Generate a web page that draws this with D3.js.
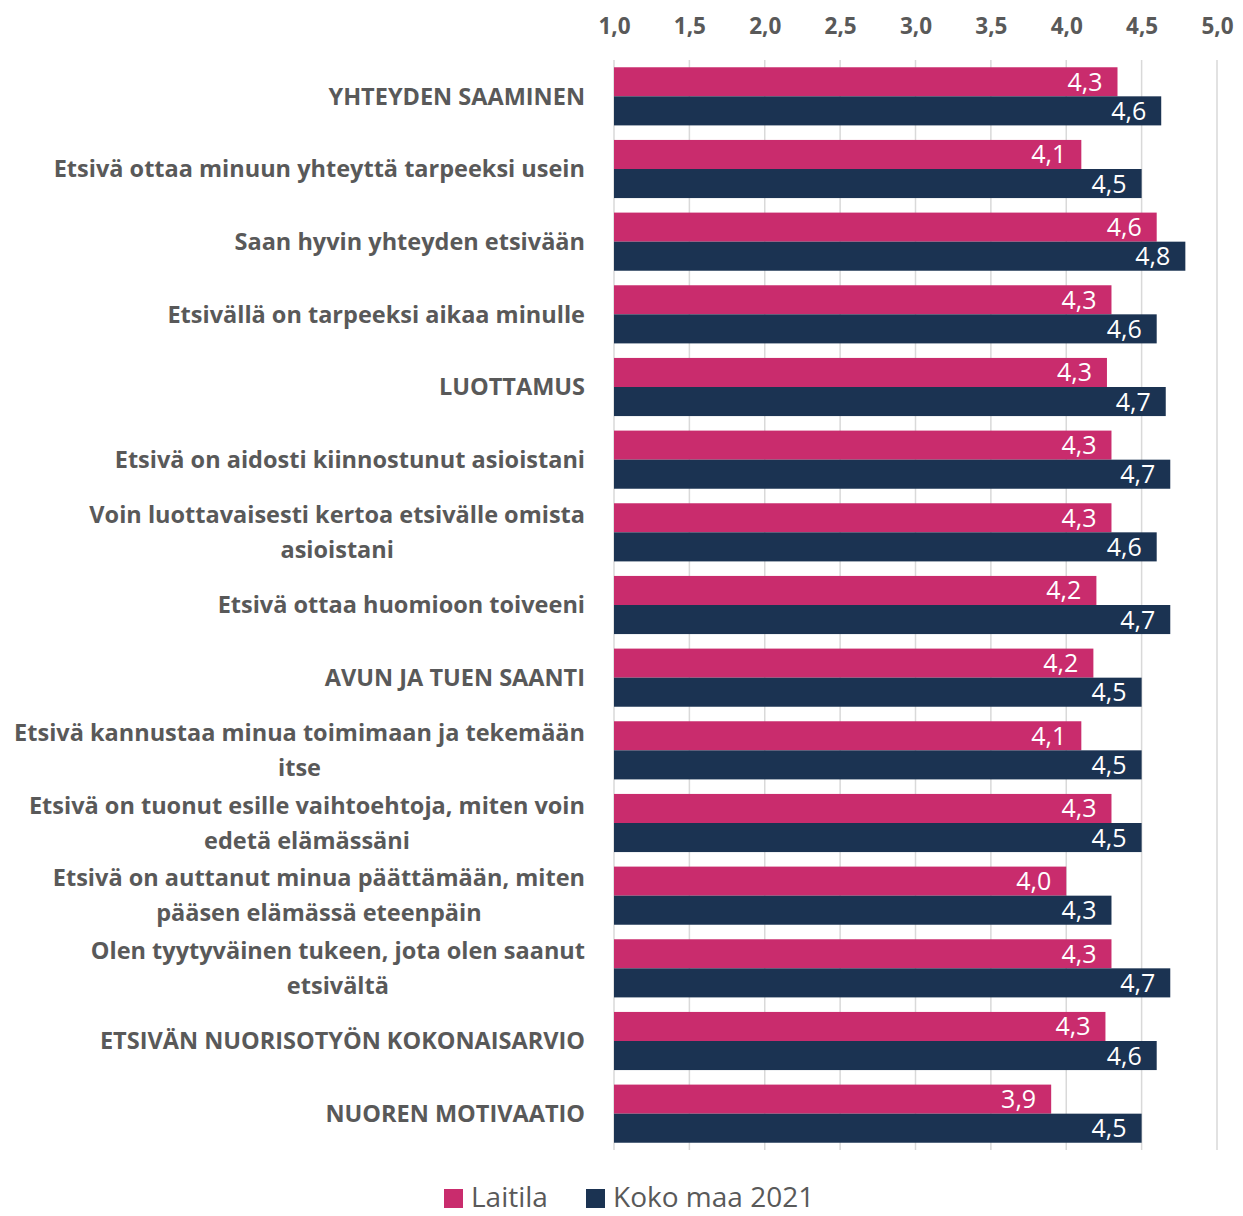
<!DOCTYPE html>
<html>
<head>
<meta charset="utf-8">
<script src="https://cdn.jsdelivr.net/npm/d3@7"></script>
<style>
  body { margin: 0; background: #fff; }
  svg { display: block; }
</style>
</head>
<body>
<svg id="chart"></svg>
<script>
// categories, lines split where the original wraps
const categories = [
  "YHTEYDEN SAAMINEN",
  "Etsivä ottaa minuun yhteyttä tarpeeksi usein",
  "Saan hyvin yhteyden etsivään",
  "Etsivällä on tarpeeksi aikaa minulle",
  "LUOTTAMUS",
  "Etsivä on aidosti kiinnostunut asioistani",
  "Voin luottavaisesti kertoa etsivälle omista|asioistani",
  "Etsivä ottaa huomioon toiveeni",
  "AVUN JA TUEN SAANTI",
  "Etsivä kannustaa minua toimimaan ja tekemään|itse",
  "Etsivä on tuonut esille vaihtoehtoja, miten voin|edetä elämässäni",
  "Etsivä on auttanut minua päättämään, miten|pääsen elämässä eteenpäin",
  "Olen tyytyväinen tukeen, jota olen saanut|etsivältä",
  "ETSIVÄN NUORISOTYÖN KOKONAISARVIO",
  "NUOREN MOTIVAATIO"
]

const laitila = [4.34, 4.10, 4.60, 4.30, 4.27, 4.30, 4.30, 4.20, 4.18, 4.10, 4.30, 4.00, 4.30, 4.26, 3.90]
const kokoMaa = [4.63, 4.50, 4.79, 4.60, 4.66, 4.69, 4.60, 4.69, 4.50, 4.50, 4.50, 4.30, 4.69, 4.60, 4.50]

const seriesNames = ["Laitila", "Koko maa 2021"]
const seriesColors = ["#c92c6d", "#1b3352"]
const xTicks = [1.0, 1.5, 2.0, 2.5, 3.0, 3.5, 4.0, 4.5, 5.0]

const W = 1243, H = 1216
const fmt = d => d3.format(".1f")(d).replace(".", ",")
const font = "'Open Sans', sans-serif"
const grey = "#595959"

const svg = d3.select("#chart").attr("width", W).attr("height", H)

//scales
const x = d3.scaleLinear().domain([1, 5]).range([614, 1217])
const y = d3.scaleBand().domain(d3.range(categories.length)).range([60, 1150])
  .paddingInner(0.2).paddingOuter(0.1)
const ySub = d3.scaleBand().domain([0, 1]).range([0, y.bandwidth()])

//gridlines
svg.append("g").selectAll("line").data(xTicks).join("line")
  .attr("x1", d => x(d)).attr("x2", d => x(d))
  .attr("y1", 60).attr("y2", 1150)
  .attr("stroke", "#d9d9d9").attr("stroke-width", 1.5)

//top axis labels
const xAxis = d3.axisTop(x).tickValues(xTicks).tickFormat(fmt).tickSize(0).tickPadding(0)
const xg = svg.append("g").attr("transform", "translate(0,34)").call(xAxis)
xg.select(".domain").remove()
xg.selectAll("text")
  .attr("font-family", font).attr("font-size", 22.5).attr("font-weight", 700)
  .attr("fill", grey)

//bars
const data = categories.map((c, i) => ({ i, vals: [laitila[i], kokoMaa[i]] }))
const groups = svg.append("g").selectAll("g").data(data).join("g")
  .attr("transform", d => `translate(0,${y(d.i)})`)

groups.selectAll("rect").data(d => d.vals).join("rect")
  .attr("x", x(1))
  .attr("y", (v, k) => ySub(k))
  .attr("width", v => x(v) - x(1))
  .attr("height", ySub.bandwidth())
  .attr("fill", (v, k) => seriesColors[k])

groups.selectAll("text").data(d => d.vals).join("text")
  .attr("x", v => x(v) - 15)
  .attr("y", (v, k) => ySub(k) + ySub.bandwidth() / 2)
  .attr("dy", "0.36em")
  .attr("text-anchor", "end")
  .attr("font-family", font).attr("font-size", 25)
  .attr("fill", "#fff")
  .text(v => fmt(v))

//category labels: block right aligned, lines centred inside it
const labelRight = 585
const lineH = 35
const labels = svg.append("g")
categories.forEach((c, i) => {
  const lines = c.split("|")
  const t = labels.append("text")
    .attr("font-family", font).attr("font-size", 23.5).attr("font-weight", 700)
    .attr("fill", grey).attr("text-anchor", "middle")
  const cy = y(i) + y.bandwidth() / 2
  lines.forEach((ln, k) => {
    t.append("tspan").attr("y", cy + (k - (lines.length - 1) / 2) * lineH).attr("dy", "0.35em").text(ln)
  })
  let maxW = 0
  t.selectAll("tspan").each(function () { maxW = Math.max(maxW, this.getComputedTextLength()) })
  t.selectAll("tspan").attr("x", labelRight - maxW / 2)
})

//legend
const legend = svg.append("g").attr("transform", "translate(444,1197)")
const legendX = [0, 142]
seriesNames.forEach((s, k) => {
  const g = legend.append("g").attr("transform", `translate(${legendX[k]},0)`)
  g.append("rect").attr("x", 0).attr("y", -8).attr("width", 19).attr("height", 19).attr("fill", seriesColors[k])
  g.append("text").attr("x", 27).attr("dy", "0.34em")
    .attr("font-family", font).attr("font-size", 28).attr("fill", grey).text(s)
})
</script>
</body>
</html>
